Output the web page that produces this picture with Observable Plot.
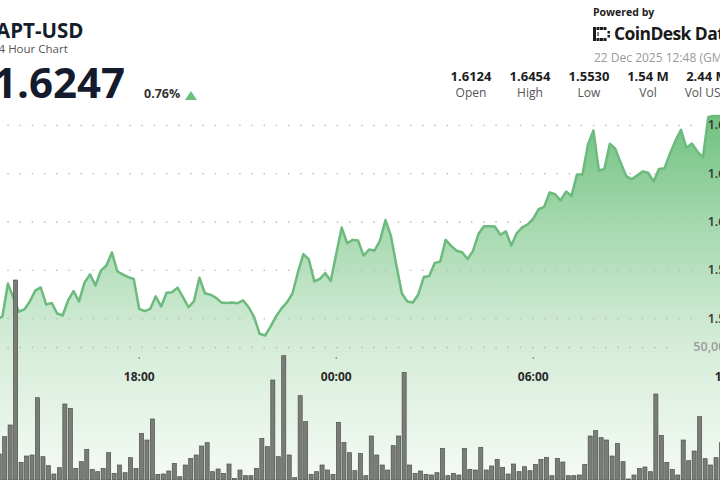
<!DOCTYPE html>
<html><head><meta charset="utf-8">
<script src="https://cdn.jsdelivr.net/npm/d3@7"></script>
<script src="https://cdn.jsdelivr.net/npm/@observablehq/plot@0.6"></script>
<style>
html,body{margin:0;padding:0;background:#fff;}
#wrap{position:relative;width:720px;height:480px;overflow:hidden;font-family:"Open Sans",sans-serif;background:#fff;}
.abs{position:absolute;white-space:nowrap;line-height:1;}
#price,#vol{position:absolute;left:-34px;top:0;width:792px;height:480px;}
#price svg,#vol svg{max-width:none !important;width:792px;height:480px;display:block;}
.stat{position:absolute;width:70px;text-align:center;line-height:1;white-space:nowrap;}
</style></head><body>
<div id="wrap">
  <div id="price"></div>
  <div id="vol"></div>
  <div class="abs" style="left:-4px;top:19.5px;font-size:20.5px;font-weight:700;color:#161d2c;">APT-USD</div>
  <div class="abs" style="left:-8px;top:42.5px;font-size:11.5px;color:#555;">24 Hour Chart</div>
  <div class="abs" style="left:-7px;top:61px;font-size:42px;font-weight:700;color:#141b2d;">1.6247</div>
  <div class="abs" style="left:144px;top:88px;font-size:12.5px;font-weight:700;color:#333;">0.76%</div>
  <div class="abs" style="left:185px;top:91px;width:0;height:0;border-left:6px solid transparent;border-right:6px solid transparent;border-bottom:9px solid #6cc07c;"></div>
  <div class="abs" style="left:593px;top:6.7px;font-size:10.5px;font-weight:700;color:#222;">Powered by</div>
  <svg class="abs" style="left:593px;top:27px" width="19" height="14" viewBox="0 0 19 14">
    <g fill="#1b1b1b">
      <rect x="0" y="0" width="3" height="14"/>
      <rect x="3.5" y="0" width="3" height="3"/><rect x="7" y="0" width="3" height="3"/><rect x="10.5" y="0" width="3" height="3"/>
      <rect x="3.5" y="11" width="3" height="3"/><rect x="7" y="11" width="3" height="3"/><rect x="10.5" y="11" width="3" height="3"/>
      <rect x="14.5" y="4" width="2.5" height="2.5"/><rect x="14.5" y="8" width="2.5" height="2.5"/>
      <rect x="4" y="5" width="2" height="4" fill="#888"/>
    </g>
  </svg>
  <div class="abs" style="left:614px;top:24.5px;font-size:17.5px;font-weight:700;color:#1a1a1a;letter-spacing:-0.6px;">CoinDesk Data</div>
  <div class="abs" style="left:594px;top:52.3px;font-size:12px;color:#9a9a9a;">22 Dec 2025 12:48 (GMT)</div>
  <div id="stats"></div>
</div>
<script>
// ---- data ----
const seriesStart = "2025-12-21T13:40:00Z";   // first sample, 10-minute steps
const stepMinutes = 10;
const domainStart = "2025-12-21T12:48:00Z";
const domainEnd = "2025-12-22T12:48:00Z";

const prices = [
  1.5597,
  1.5609, 1.5745, 1.5687, 1.5629, 1.5638, 1.5671, 1.5716, 1.5729, 1.5658, 1.5665,
  1.5621, 1.5613, 1.5675, 1.5714, 1.5671, 1.5749, 1.5783, 1.5737, 1.5799, 1.5820,
  1.5874, 1.5795, 1.5783, 1.5772, 1.5764, 1.5640, 1.5631, 1.5640, 1.5692, 1.5650,
  1.5707, 1.5709, 1.5728, 1.5689, 1.5647, 1.5672, 1.5769, 1.5705, 1.5699, 1.5687,
  1.5667, 1.5665, 1.5667, 1.5664, 1.5675, 1.5647, 1.5606, 1.5537, 1.5530, 1.5567,
  1.5609, 1.5642, 1.5667, 1.5704, 1.5792, 1.5867, 1.5845, 1.5754, 1.5765, 1.5788,
  1.5756, 1.5868, 1.5977, 1.5912, 1.5926, 1.5923, 1.5861, 1.5886, 1.5882, 1.5923,
  1.6008, 1.5942, 1.5820, 1.5704, 1.5671, 1.5667, 1.5700, 1.5772, 1.5776, 1.5830,
  1.5836, 1.5926, 1.5901, 1.5881, 1.5875, 1.5847, 1.5880, 1.5951, 1.5982, 1.5982,
  1.5981, 1.5947, 1.5961, 1.5903, 1.5954, 1.5978, 1.5990, 1.6014, 1.6053, 1.6063,
  1.6122, 1.6115, 1.6089, 1.6126, 1.6108, 1.6197, 1.6197, 1.6321, 1.6379, 1.6213,
  1.6220, 1.6324, 1.6304, 1.6244, 1.6190, 1.6177, 1.6193, 1.6209, 1.6204, 1.6168,
  1.6220, 1.6223, 1.6284, 1.6337, 1.6382, 1.6307, 1.6325, 1.6292, 1.6267, 1.6435,
  1.6439, 1.6439, 1.6440
];

const volumes = [
  9773, 16289, 20675, 75180, 6641, 9022, 9398, 30949, 8771, 5388,
  2255, 4636, 28568, 26940, 4386, 6892, 11528, 4010, 3133, 4386,
  10275, 2506, 5639, 2757, 8395, 4386, 17542, 15036, 22930, 2130,
  2255, 3383, 6265, 1253, 5639, 8145, 9398, 12781, 14034, 3133,
  4135, 2506, 6014, 627, 3759, 1629, 1629, 4386, 15663, 12530,
  37590, 8771, 46737, 9398, 877, 31701, 21928, 2130, 3133, 5639,
  3759, 2130, 21677, 14159, 10275, 3508, 10024,
  1629, 16540, 9398, 5639, 3759, 12906, 16540, 40472, 5639, 2506,
  3383, 2130, 1880, 2757, 11904, 1629, 2506, 1880, 11904, 4010,
  3759, 12279, 3759, 5263, 7769, 4761, 2255, 6014, 3133, 5012,
  3508, 5889, 7769, 8520, 1629, 8145, 6766, 1629, 1629, 1880,
  5889, 16540, 18544, 15913, 15036, 9022, 13783, 6892, 376, 1880,
  4386, 4887, 3133, 32327, 16790, 6641, 4010, 1880, 15036, 7267,
  10901, 23807, 8019, 5639, 8395, 14034, 35711
];

const priceTicks = [1.56, 1.58, 1.60, 1.62, 1.64];
const volumeTicks = [50000];

const statValues = ["1.6124", "1.6454", "1.5530", "1.54 M", "2.44 M"];
const statLabels = ["Open", "High", "Low", "Vol", "Vol USD"];

// ---- build ----
const t0 = new Date(seriesStart).getTime();
const stepMs = stepMinutes * 60000;
const priceData = prices.map((p, i) => ({t: new Date(t0 + i * stepMs), p}));
const volData = volumes.map((v, i) => ({t1: new Date(t0 + i * stepMs), t2: new Date(t0 + (i + 1) * stepMs), v}));

const W = 792, H = 480;
const font = '"Open Sans", sans-serif';

function gradientDefs() {
  const ns = "http://www.w3.org/2000/svg";
  const defs = document.createElementNS(ns, "defs");
  const g = document.createElementNS(ns, "linearGradient");
  g.setAttribute("id", "pg");
  g.setAttribute("gradientUnits", "userSpaceOnUse");
  g.setAttribute("x1", "0"); g.setAttribute("x2", "0");
  g.setAttribute("y1", "110"); g.setAttribute("y2", "480");
  [["0", "#6cc07d"], ["0.3", "#a4d8ad"], ["0.62", "#d4ecd7"], ["1", "#f5faf5"]].forEach(([o, c]) => {
    const s = document.createElementNS(ns, "stop");
    s.setAttribute("offset", o); s.setAttribute("stop-color", c);
    g.appendChild(s);
  });
  defs.appendChild(g);
  return defs;
}

const gridStyle = {stroke: "#b9b9b9", strokeWidth: 1.3, strokeDasharray: "1.5 10.7", strokeDashoffset: -2.7, insetRight: 59};

const pricePlot = Plot.plot({
  width: W, height: H,
  marginLeft: 2, marginRight: 2, marginTop: 0, marginBottom: 0,
  style: {fontFamily: font, background: "transparent", overflow: "visible"},
  x: {type: "utc", domain: [new Date(domainStart), new Date(domainEnd)], axis: null},
  y: {domain: [1.49296, 1.69172], axis: null},
  marks: [
    gradientDefs,
    Plot.areaY(priceData, {x: "t", y: "p", fill: "url(#pg)", clip: true}),
    Plot.ruleY(priceTicks, gridStyle),
    Plot.lineY(priceData, {x: "t", y: "p", stroke: "#6cba7d", strokeWidth: 2.5, strokeLinejoin: "round"}),
    Plot.axisY(priceTicks, {anchor: "left", tickSize: 0, tickPadding: 0, dx: 764, tickFormat: d => d.toFixed(2),
      fontSize: 12.5, fontWeight: 600, fill: "#333", label: null}),
    Plot.axisX({anchor: "bottom", ticks: d3.utcHour.every(6), tickFormat: d3.utcFormat("%H:%M"),
      tickSize: 2, tickPadding: 13, dy: -123, stroke: "#777", fill: "#2a2a2a", fontSize: 12, fontWeight: 700, label: null})
  ]
});
document.getElementById("price").appendChild(pricePlot);

const volPlot = Plot.plot({
  width: W, height: H,
  marginLeft: 2, marginRight: 2, marginTop: 0, marginBottom: 0,
  style: {fontFamily: font, background: "transparent", overflow: "visible"},
  x: {type: "utc", domain: [new Date(domainStart), new Date(domainEnd)], axis: null},
  y: {domain: [0, 180451], axis: null},
  marks: [
    Plot.ruleY(volumeTicks, {...gridStyle, insetRight: 80}),
    Plot.axisY(volumeTicks, {anchor: "left", tickSize: 0, tickPadding: 0, dx: 764, tickFormat: d3.format(","),
      fontSize: 12.5, fontWeight: 600, fill: "#9a9a9a", label: null}),
    Plot.rectY(volData, {x1: "t1", x2: "t2", y: "v", fill: "#7a7c78", stroke: "#4e504c", strokeWidth: 0.7, insetLeft: 0.7, insetRight: 0.7})
  ]
});
document.getElementById("vol").appendChild(volPlot);

// stats row
const centers = [471, 530, 589, 648, 707];
const stats = document.getElementById("stats");
statValues.forEach((v, i) => {
  const a = document.createElement("div");
  a.className = "stat";
  a.style.cssText = `left:${centers[i] - 35}px;top:69.8px;font-size:13px;font-weight:700;color:#1c1c1c;`;
  a.textContent = v;
  stats.appendChild(a);
  const b = document.createElement("div");
  b.className = "stat";
  b.style.cssText = `left:${centers[i] - 35}px;top:86.6px;font-size:12px;color:#555;`;
  b.textContent = statLabels[i];
  stats.appendChild(b);
});
</script>
</body></html>
